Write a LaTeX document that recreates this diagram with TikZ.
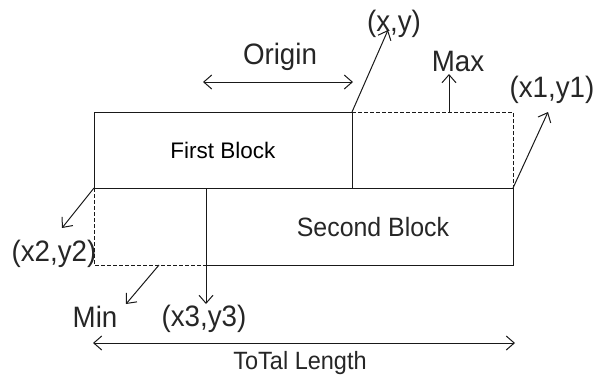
\documentclass[tikz,border=0pt]{standalone}
\usepackage{fontspec}
\setmainfont{Liberation Sans}
\newfontfamily\thinfont{Liberation Sans}[FakeStretch=0.94]
\usetikzlibrary{arrows.meta}
\begin{document}
\begin{tikzpicture}[x=1pt,y=-1pt,
  ln/.style={line width=1pt,draw=black!90},
  dsh/.style={ln,dash pattern=on 4pt off 2pt},
  arr/.style={ln,-{Straight Barb[length=8pt,width=14pt,line width=1pt]}},
  darr/.style={ln,{Straight Barb[length=8pt,width=14pt,line width=1pt]}-{Straight Barb[length=8pt,width=14pt,line width=1pt]}},
  lbl/.style={inner sep=0pt,anchor=base,font=\thinfont\fontsize{29.5}{31}\selectfont,text=black!85},
]
\useasboundingbox (0,0) rectangle (613,376);
% corners
\coordinate (a1) at (94,112);
\coordinate (a2) at (352,112);
\coordinate (a3) at (513,112);
\coordinate (b1) at (94,188);
\coordinate (b2) at (206,188);
\coordinate (b3) at (352,188);
\coordinate (b4) at (513,188);
\coordinate (c1) at (94,265);
\coordinate (c2) at (206,265);
\coordinate (c3) at (513,265);
\coordinate (mx) at (449,112);
\coordinate (mn) at (159,265);
% blocks
\draw[ln] (b1) -- (a1) -- (a2) -- (b3);
\draw[ln] (b1) -- (b4) -- (c3) -- (c2) -- (b2);
\draw[dsh] (a2) -- (a3) -- (b4);
\draw[dsh] (b1) -- (c1) -- (c2);
% texts
\node[inner sep=0pt,anchor=base,font=\fontsize{22.5}{24}\selectfont] (fb) at (223,158) {First Block};
\node[lbl,font=\thinfont\fontsize{26.5}{28}\selectfont] (sb) at (373,236) {Second Block};
\node[lbl] (orig) at (280,64) {Origin};
\node[lbl] (xy) at (394,31) {(x,y)};
\node[lbl] (max) at (458,71) {Max};
\node[lbl] (xy1) at (552,97) {(x1,y1)};
\node[lbl] (xy2) at (54,261) {(x2,y2)};
\node[lbl] (min) at (95,327) {Min};
\node[lbl] (xy3) at (204,326) {(x3,y3)};
\node[lbl,font=\thinfont\fontsize{25}{27}\selectfont] (tl) at (300,369) {ToTal Length};
% arrow ends
\coordinate (oL) at (203,82);
\coordinate (oR) at (353,82);
\coordinate (pxy) at (388,30);
\coordinate (pmax) at (449,74);
\coordinate (pxy1) at (548,112);
\coordinate (pxy2) at (62,228);
\coordinate (pmin) at (126,304);
\coordinate (pxy3) at (206,304);
\coordinate (tL) at (93,343);
\coordinate (tR) at (515,343);
% arrows
\draw[darr] (oL) -- (oR);
\draw[arr] (a2) -- (pxy);
\draw[arr] (mx) -- (pmax);
\draw[arr] (b4) -- (pxy1);
\draw[arr] (b1) -- (pxy2);
\draw[arr] (mn) -- (pmin);
\draw[arr] (c2) -- (pxy3);
\draw[darr] (tL) -- (tR);
\end{tikzpicture}
\end{document}
